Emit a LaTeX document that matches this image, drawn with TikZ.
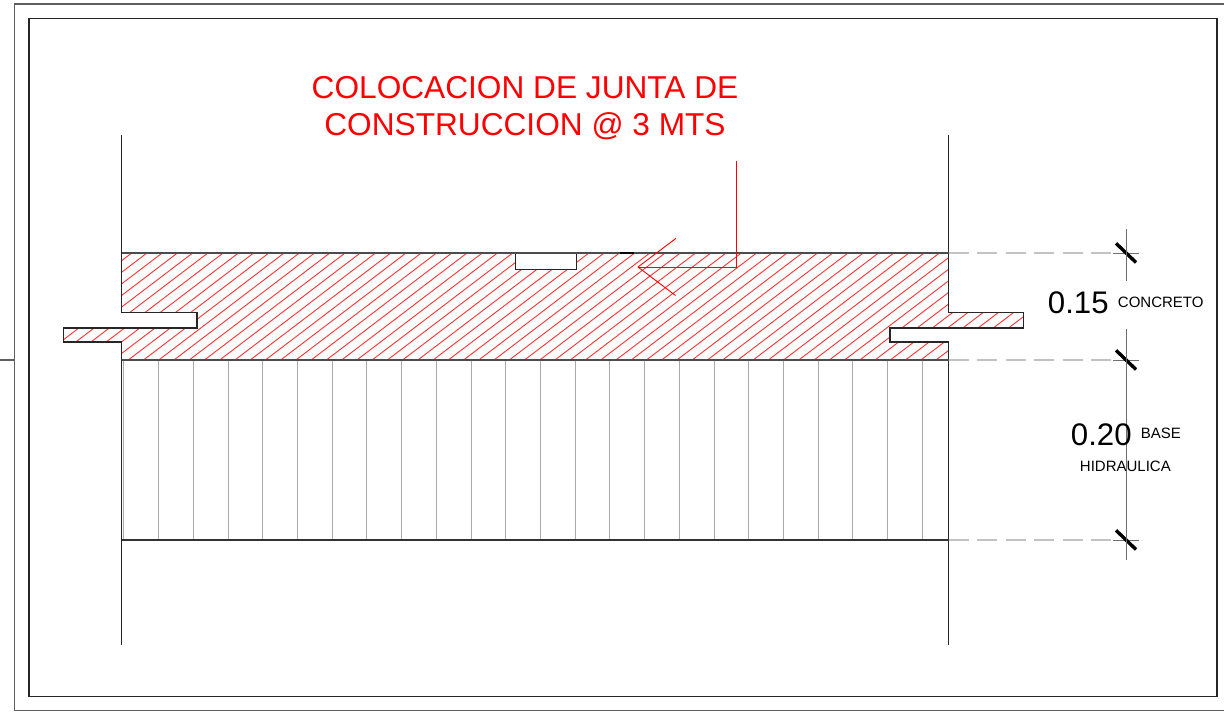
\documentclass[tikz,border=0pt]{standalone}
\usepackage{fontspec}
\setmainfont{Liberation Sans}
\definecolor{hatchred}{RGB}{255,50,50}
\definecolor{basegray}{RGB}{170,170,170}
\definecolor{dashgray}{RGB}{195,195,195}
\definecolor{dimgray}{RGB}{110,110,110}
\definecolor{framegray}{RGB}{95,95,95}
\tikzset{
  frameline/.style={draw=framegray,line width=0.55pt},
  innerframe/.style={draw=black!85,line width=0.55pt},
  outlineline/.style={draw=black!85,line width=0.55pt},
  hatchline/.style={draw=hatchred,line width=0.45pt},
  baseline/.style={draw=basegray,line width=0.45pt},
  dashline/.style={draw=dashgray,line width=0.6pt,dash pattern=on 10pt off 4.2pt},
  dimline/.style={draw=dimgray,line width=0.5pt},
  tickmark/.style={draw=black,line width=1.7pt},
  leaderline/.style={draw=red,line width=0.45pt},
  bigred/.style={text=red,font=\fontsize{15.82pt}{18pt}\selectfont,inner sep=0pt,anchor=base},
  bigdim/.style={text=black,font=\fontsize{15.6pt}{18pt}\selectfont,inner sep=0pt,anchor=base west},
  smalldim/.style={text=black,font=\fontsize{7.5pt}{9pt}\selectfont,inner sep=0pt,anchor=base west}
}
\begin{document}
\begin{tikzpicture}[x=0.5pt,y=-0.5pt]
\useasboundingbox (0,0) rectangle (1224,711);
% frames
\draw[frameline] (1224,4) -- (14.5,4) -- (14.5,710.5) -- (1224,710.5);
\draw[frameline] (0,360) -- (14.5,360);
\draw[innerframe] (29,18.5) rectangle (1217,696.5);
% base vertical hatch
\foreach \k in {0,...,23} \draw[baseline] ({123.8+34.72*\k},360) -- ({123.8+34.72*\k},540);
% concrete hatch
\begin{scope}
\clip (121.5,253) -- (948.5,253) -- (948.5,312.5) -- (1023.5,312.5) -- (1023.5,328) -- (890,328) -- (890,342) -- (948.5,342) -- (948.5,360) -- (121.5,360) -- (121.5,342) -- (63.5,342) -- (63.5,328) -- (197,328) -- (197,312.5) -- (121.5,312.5) -- cycle;
\foreach \k in {-5,...,68} \draw[hatchline] ({131.7+15.24*\k},253) -- ({131.7+15.24*\k-140.6},360);
\end{scope}
% notch
\draw[outlineline,fill=white] (515.5,253) -- (515.5,269.3) -- (576.5,269.3) -- (576.5,253);
% outline
\draw[outlineline] (121.5,135) -- (121.5,312.5) -- (197,312.5) -- (197,328) -- (63.5,328) -- (63.5,342) -- (121.5,342) -- (121.5,645);
\draw[outlineline] (948.5,135) -- (948.5,312.5) -- (1023.5,312.5) -- (1023.5,328) -- (890,328) -- (890,342) -- (948.5,342) -- (948.5,645);
\draw[outlineline,draw=black!70,line width=0.65pt] (121.5,253) -- (948.5,253);
\draw[outlineline,draw=black!70,line width=0.65pt] (121.5,360) -- (948.5,360);
\draw[outlineline,draw=black!80] (121.5,540) -- (948.5,540);
\draw[draw=black,line width=0.8pt] (619.5,253) -- (634,253);
% dimension lines
\foreach \y in {253,360,540} {
  \draw[dashline] (949,\y) -- (1113,\y);
  \draw[dimline] (1113,\y) -- (1139,\y);
  \draw[tickmark] (1116,\y-9.7) -- (1136,\y+9.5);
}
\draw[dimline] (1126,229) -- (1126,281);
\draw[dimline] (1126,329) -- (1126,560);
% leader
\coordinate (leadtop) at (736.5,161);
\coordinate (leadcorner) at (736.5,267);
\coordinate (leadtip) at (638,267);
\coordinate (wingA) at (676,238.3);
\coordinate (wingB) at (675.5,295.5);
\draw[leaderline] (leadtop) -- (leadcorner) -- (leadtip);
\draw[leaderline] (wingA) -- (leadtip) -- (wingB);
% text
\node[bigred] (title1) at (525,98.5) {COLOCACION DE JUNTA DE};
\node[bigred] (title2) at (525,136) {CONSTRUCCION @ 3 MTS};
\node[bigdim] (d15) at (1047.5,313) {0.15};
\node[smalldim] (concreto) at (1117.5,307) {CONCRETO};
\node[bigdim] (d20) at (1070.5,445) {0.20};
\node[smalldim] (basetxt) at (1140.5,438.5) {BASE};
\node[smalldim] (hidraulica) at (1079.5,471) {HIDRAULICA};
\end{tikzpicture}
\end{document}
